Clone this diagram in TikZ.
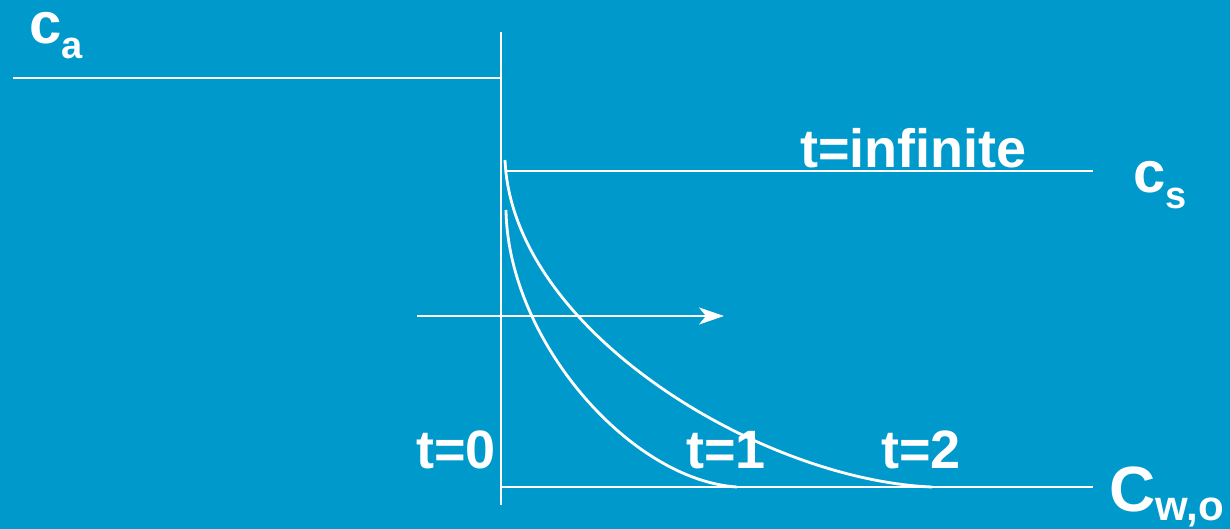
\documentclass[tikz,border=0pt]{standalone}
\usepackage{fontspec}
\setmainfont{Liberation Sans}
\usetikzlibrary{arrows.meta}
\definecolor{bgblue}{HTML}{0099CC}
\newcommand{\subtxt}[3][38]{\raisebox{#2}{\fontsize{#1}{40}\selectfont #3}}

\begin{document}
\begin{tikzpicture}[x=1pt,y=-1pt,
  wline/.style={draw=white,line width=2.8pt},
  lbl/.style={text=white,font=\fontsize{54}{60}\selectfont\bfseries,anchor=base west,inner sep=0pt},
  conc/.style={text=white,font=\fontsize{58}{64}\selectfont\bfseries,anchor=base west,inner sep=0pt}]
  \fill[bgblue] (0,0) rectangle (1230,529);
  \useasboundingbox (0,0) rectangle (1230,529);
  \coordinate (top) at (501,32);  \coordinate (bot) at (501,505);
  \coordinate (a0) at (13,78);    \coordinate (a1) at (501,78);
  \coordinate (s0) at (507,171);  \coordinate (s1) at (1093,171);
  \coordinate (w0) at (501,487);  \coordinate (w1) at (1093,487);
  \coordinate (f0) at (417,316);  \coordinate (f1) at (724,316);
  \coordinate (p1) at (506,210);  \coordinate (q1) at (737,487);
  \coordinate (p2) at (505,160);  \coordinate (q2) at (932,487);
  \draw[wline] (top)--(bot);
  \draw[wline] (a0)--(a1); \draw[wline] (s0)--(s1); \draw[wline] (w0)--(w1);
  \draw[wline,-{Stealth[length=25pt,width=17pt,inset=7pt]}] (f0)--(f1);
  \draw[wline] (p1) .. controls (508,340) and (630,480) .. (q1);
  \draw[wline] (p2) .. controls (512,330) and (760,480) .. (q2);
  \node[conc] (ca) at (29,44) {c\subtxt{-15pt}{a}};
  \node[conc] (cs) at (1133,193) {c\subtxt{-16pt}{s}};
  \node[conc,font=\fontsize{64}{68}\selectfont\bfseries] (cw) at (1109,511) {C\subtxt[42]{-9pt}{w,o}};
  \node[lbl] (tinf) at (800,168) {t=infinite};
  \node[lbl] (t0) at (416,468) {t=0};
  \node[lbl] (t1) at (686,468) {t=1};
  \node[lbl] (t2) at (881,468) {t=2};
\end{tikzpicture}
\end{document}
